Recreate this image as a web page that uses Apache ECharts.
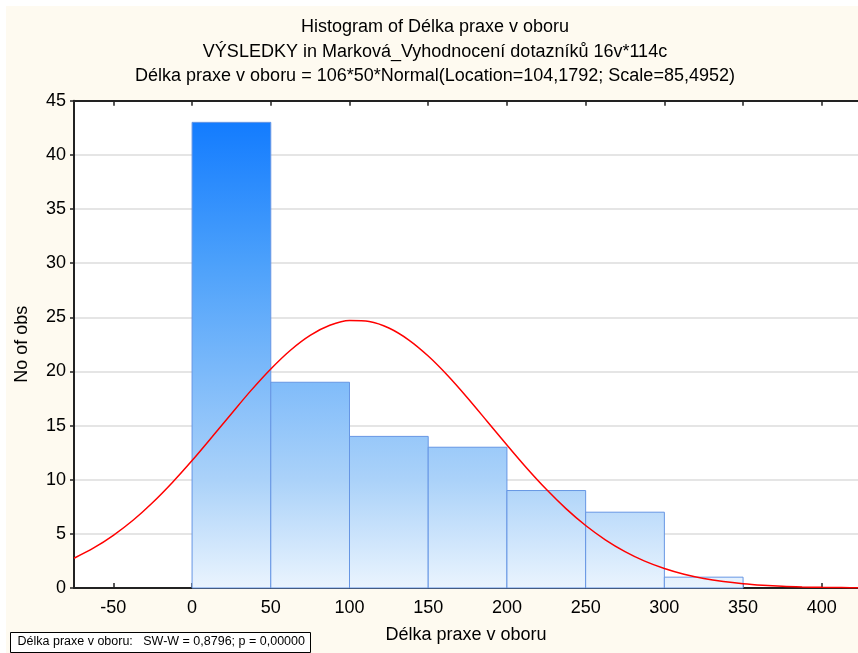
<!DOCTYPE html>
<html>
<head>
<meta charset="utf-8">
<script src="https://cdn.jsdelivr.net/npm/echarts@6/dist/echarts.min.js"></script>
<style>
  html, body { margin: 0; padding: 0; background: #fff; }
  #chart { width: 858px; height: 653px; }
</style>
</head>
<body>
<div id="chart"></div>
<script>
// histogram bins
const binStarts = [0, 50, 100, 150, 200, 250, 300];
const binWidth = 50;
const counts = [43, 19, 14, 13, 9, 7, 1];
const xTicks = [-50, 0, 50, 100, 150, 200, 250, 300, 350, 400];

// fitted normal curve
const curveX = [-75, -62.5, -50, -37.5, -25, -12.5, 0, 12.5, 25, 37.5, 50, 62.5, 75, 87.5, 100, 112.5,
  125, 137.5, 150, 162.5, 175, 187.5, 200, 212.5, 225, 237.5, 250, 262.5, 275, 287.5, 300, 312.5,
  325, 337.5, 350, 362.5, 375, 387.5, 400, 412.5, 425];
const curveY = [2.75, 3.7, 4.87, 6.26, 7.9, 9.75, 11.77, 13.92, 16.1, 18.25, 20.23, 21.96, 23.33, 24.26, 24.7, 24.61,
  24.01, 22.92, 21.42, 19.6, 17.55, 15.38, 13.2, 11.08, 9.11, 7.33, 5.77, 4.45, 3.36, 2.48, 1.8, 1.27,
  0.88, 0.6, 0.4, 0.26, 0.16, 0.1, 0.06, 0.04, 0.02];

const titleLines = [
  'Histogram of Délka praxe v oboru',
  'VÝSLEDKY in Marková_Vyhodnocení dotazníků 16v*114c',
  'Délka praxe v oboru = 106*50*Normal(Location=104,1792; Scale=85,4952)'
];
const footer = 'Délka praxe v oboru:   SW-W = 0,8796; p = 0,00000';

const font = '"Liberation Sans", Arial, sans-serif';
const chart = echarts.init(document.getElementById('chart'));

const barFill = {
  type: 'linear', x: 0, y: 100, x2: 0, y2: 588, global: true,
  colorStops: [
    { offset: 0, color: '#0a76ff' },
    { offset: 0.33, color: '#4ba0fb' },
    { offset: 0.78, color: '#abd2f9' },
    { offset: 1, color: '#eaf4fe' }
  ]
};

chart.setOption({
  animation: false,
  backgroundColor: '#fff',
  graphic: [
    { type: 'rect', z: -10, shape: { x: 6, y: 6, width: 852, height: 647 }, style: { fill: '#fefaf0' } },
    {
      type: 'group', left: 10, top: 632,
      children: [
        { type: 'rect', shape: { x: 0, y: 0, width: 300, height: 20 }, style: { fill: '#fff', stroke: '#000', lineWidth: 1 } },
        { type: 'text', x: 7, y: 3, style: { text: footer, font: '12.5px ' + font, fill: '#000' } }
      ]
    }
  ],
  title: {
    text: titleLines.join('\n'),
    left: 430, top: 10, textAlign: 'center',
    textStyle: { fontFamily: font, fontSize: 18, fontWeight: 'normal', color: '#000', lineHeight: 24.5 }
  },
  grid: { left: 74, right: 0, top: 100.7, bottom: 65, backgroundColor: '#fff', show: true, borderWidth: 0 },
  xAxis: [
    {
      type: 'value', min: -75, max: 423, position: 'bottom',
      name: 'Délka praxe v oboru', nameLocation: 'middle', nameGap: 38,
      nameTextStyle: { fontFamily: font, fontSize: 18, color: '#000' },
      axisLine: { onZero: false, lineStyle: { color: '#222', width: 2 } },
      axisTick: { inside: true, length: 5, customValues: xTicks, lineStyle: { color: '#222', width: 1.5 } },
      axisLabel: { customValues: xTicks, fontFamily: font, fontSize: 18, color: '#000', margin: 11 },
      splitLine: { show: false }
    },
    {
      type: 'value', min: -75, max: 423, position: 'top',
      axisLine: { onZero: false, lineStyle: { color: '#222', width: 2 } },
      axisTick: { inside: true, length: 5, customValues: xTicks, lineStyle: { color: '#222', width: 1.5 } },
      axisLabel: { show: false },
      splitLine: { show: false }
    }
  ],
  yAxis: {
    type: 'value', min: 0, max: 45, interval: 5,
    name: 'No of obs', nameLocation: 'middle', nameGap: 43,
    nameTextStyle: { fontFamily: font, fontSize: 18, color: '#000' },
    axisLine: { show: true, onZero: false, lineStyle: { color: '#222', width: 2 } },
    axisTick: { show: true, length: 4, lineStyle: { color: '#222', width: 1.5 } },
    axisLabel: { fontFamily: font, fontSize: 18, color: '#000', margin: 8 },
    splitLine: { lineStyle: { color: '#dcdcdc', width: 1.5 } }
  },
  series: [
    {
      type: 'custom',
      data: binStarts.map((s, i) => [s, s + binWidth, counts[i]]),
      renderItem: (params, api) => {
        const p0 = api.coord([api.value(0), api.value(2)]);
        const p1 = api.coord([api.value(1), 0]);
        return {
          type: 'rect',
          shape: { x: p0[0], y: p0[1], width: p1[0] - p0[0], height: p1[1] - p0[1] },
          style: { fill: barFill, stroke: '#6696e4', lineWidth: 1 }
        };
      },
      z: 2
    },
    {
      type: 'line',
      data: curveX.map((x, i) => [x, curveY[i]]),
      smooth: 0.3, showSymbol: false, clip: true,
      lineStyle: { color: '#ff0000', width: 1.5 },
      z: 3
    }
  ]
});
</script>
</body>
</html>
